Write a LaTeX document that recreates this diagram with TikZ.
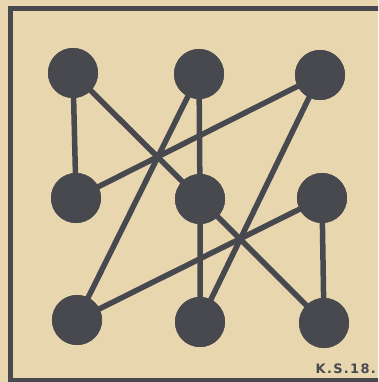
\documentclass[tikz,border=0pt]{standalone}
\usepackage{fontspec}
\setmainfont{DejaVu Sans}
\definecolor{paper}{HTML}{E8D7AE}
\definecolor{ink}{HTML}{48484F}
\tikzset{
  dot/.style={circle,fill=ink,minimum size=50pt,inner sep=0pt},
  bar/.style={draw=ink,line width=5.5pt},
}

\begin{document}
\begin{tikzpicture}[x=1pt,y=-1pt]
  \useasboundingbox (0,0) rectangle (378,382);
  \clip (0,0) rectangle (378,382);
  \fill[paper] (0,0) rectangle (378,382);
  % frame
  \draw[ink,line width=5pt] (380,8.5) -- (10.5,8.5) -- (10.5,380.5) -- (380,380.5);
  % the nine dots
  \node[dot] (tl) at (73,73) {};
  \node[dot] (tm) at (199,74) {};
  \node[dot] (tr) at (320,75) {};
  \node[dot] (ml) at (76,198) {};
  \node[dot] (c)  at (200,199) {};
  \node[dot] (mr) at (322,198) {};
  \node[dot] (bl) at (77,320) {};
  \node[dot] (bm) at (200,322) {};
  \node[dot] (br) at (324,323) {};
  % connectors
  \draw[bar] (tl.center) -- (ml.center);
  \draw[bar] (tl.center) -- (c.center) -- (br.center);
  \draw[bar] (ml.center) -- (tr.center);
  \draw[bar] (tm.center) -- (bl.center);
  \draw[bar] (tm.center) -- (c.center) -- (bm.center);
  \draw[bar] (tr.center) -- (bm.center);
  \draw[bar] (mr.center) -- (bl.center);
  \draw[bar] (mr.center) -- (br.center);
  % dots again on top
  \foreach \d in {tl,tm,tr,ml,c,mr,bl,bm,br}
    \fill[ink] (\d) circle (25);
  \node[font=\bfseries\fontsize{13}{13}\selectfont\addfontfeature{LetterSpace=10},
    text=ink,anchor=east,inner sep=0pt] (sig) at (376,368.5) {K.S.18.};
\end{tikzpicture}
\end{document}
